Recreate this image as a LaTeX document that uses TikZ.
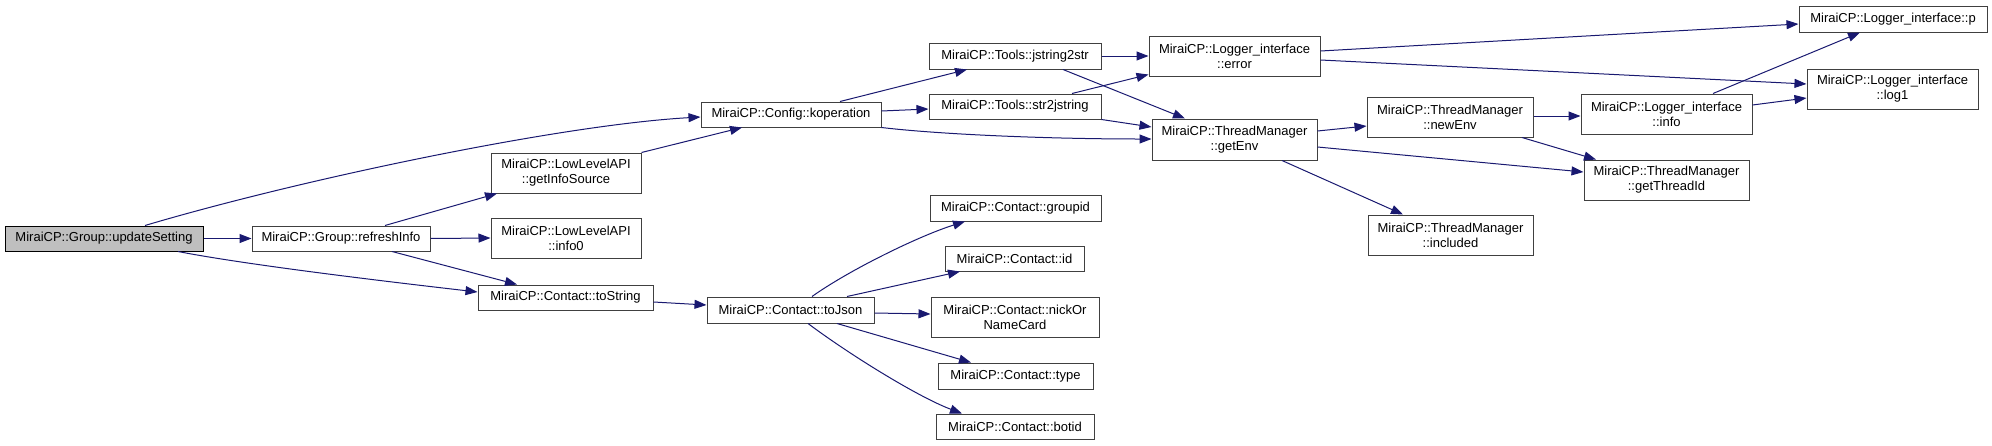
\documentclass[tikz,border=0pt]{standalone}
\usepackage{fontspec}
\setmainfont{Liberation Sans}
\usetikzlibrary{arrows.meta,calc}
\definecolor{nodeborder}{HTML}{404040}
\definecolor{edgeblue}{HTML}{191970}
\definecolor{rootfill}{HTML}{BFBFBF}
\tikzset{
  fn/.style={draw=nodeborder, fill=white, line width=1pt, inner sep=0pt, align=center,
             font=\fontsize{13}{15}\selectfont},
  rootfn/.style={fn, fill=rootfill, draw=black},
  call/.style={draw=edgeblue, line width=1pt, -{Triangle[length=12pt,width=9pt,fill=edgeblue]}},
}
\begin{document}
\begin{tikzpicture}[x=1pt,y=-1pt]
\useasboundingbox (0,0) rectangle (1992,445);
% nodes
\node[rootfn, minimum width=198pt, minimum height=25pt] (upd) at (104,238.5) {MiraiCP::Group::updateSetting};
\node[fn, minimum width=178pt, minimum height=25pt] (ref) at (341,238.5) {MiraiCP::Group::refreshInfo};
\node[fn, minimum width=150pt, minimum height=40pt] (gis) at (566,173) {MiraiCP::LowLevelAPI\\::getInfoSource};
\node[fn, minimum width=150pt, minimum height=40pt] (info0) at (566,238) {MiraiCP::LowLevelAPI\\::info0};
\node[fn, minimum width=175pt, minimum height=25pt] (tostr) at (565.5,297.5) {MiraiCP::Contact::toString};
\node[fn, minimum width=180pt, minimum height=25pt] (kop) at (791,114.5) {MiraiCP::Config::koperation};
\node[fn, minimum width=172pt, minimum height=26pt] (j2s) at (1015,56) {MiraiCP::Tools::jstring2str};
\node[fn, minimum width=172pt, minimum height=25pt] (s2j) at (1015,106.5) {MiraiCP::Tools::str2jstring};
\node[fn, minimum width=171pt, minimum height=40pt] (err) at (1234.5,56) {MiraiCP::Logger\_interface\\::error};
\node[fn, minimum width=165pt, minimum height=41pt] (genv) at (1234.5,139.5) {MiraiCP::ThreadManager\\::getEnv};
\node[fn, minimum width=166pt, minimum height=40pt] (newenv) at (1450,117) {MiraiCP::ThreadManager\\::newEnv};
\node[fn, minimum width=165pt, minimum height=40pt] (incl) at (1450.5,235) {MiraiCP::ThreadManager\\::included};
\node[fn, minimum width=171pt, minimum height=40pt] (info) at (1666.5,114) {MiraiCP::Logger\_interface\\::info};
\node[fn, minimum width=165pt, minimum height=40pt] (gtid) at (1666.5,180) {MiraiCP::ThreadManager\\::getThreadId};
\node[fn, minimum width=188pt, minimum height=26pt] (p) at (1893,19) {MiraiCP::Logger\_interface::p};
\node[fn, minimum width=171pt, minimum height=40pt] (log1) at (1892.5,89) {MiraiCP::Logger\_interface\\::log1};
\node[fn, minimum width=167pt, minimum height=26pt] (tojson) at (790.5,310) {MiraiCP::Contact::toJson};
\node[fn, minimum width=171pt, minimum height=26pt] (gid) at (1015.5,208) {MiraiCP::Contact::groupid};
\node[fn, minimum width=139pt, minimum height=25pt] (cid) at (1014.5,258.5) {MiraiCP::Contact::id};
\node[fn, minimum width=168pt, minimum height=40pt] (nick) at (1015,317) {MiraiCP::Contact::nickOr\\NameCard};
\node[fn, minimum width=155pt, minimum height=26pt] (ctype) at (1015.5,376) {MiraiCP::Contact::type};
\node[fn, minimum width=158pt, minimum height=25pt] (botid) at (1015,426.5) {MiraiCP::Contact::botid};
% connectors
\draw[call] ([xshift=41pt]upd.north) .. controls +(155,-46) and +(-141,8) .. ([yshift=-2.5pt]kop.west);
\draw[call] (upd.east) -- (ref.west);
\draw[call] ([xshift=74pt]upd.south) .. controls +(72,14) and +(-78,-9) .. ([yshift=5.5pt]tostr.west);
\draw[call] ([xshift=44pt]ref.north) -- ([xshift=-69pt]gis.south);
\draw[call] (ref.east) -- (info0.west);
\draw[call] ([xshift=51pt]ref.south) -- ([xshift=-48.5pt]tostr.north);
\draw[call] (gis.north east) -- ([xshift=-49pt]kop.south);
\draw[call] ([xshift=49pt]kop.north) -- ([xshift=-48pt]j2s.south);
\draw[call] ([yshift=3.5pt]kop.east) -- ([yshift=-2.5pt]s2j.west);
\draw[call] (kop.south east) .. controls +(59,7) and +(-102,0) .. ([yshift=0.5pt]genv.west);
\draw[call] (j2s.east) -- (err.west);
\draw[call] ([xshift=48pt]j2s.south) -- ([xshift=-49.5pt]genv.north);
\draw[call] ([xshift=57pt]s2j.north) -- ([yshift=2pt]err.south west);
\draw[call] (s2j.south east) -- ([yshift=12.5pt]genv.west);
\draw[call] ([yshift=5pt]err.east) -- ([yshift=-5pt]p.west);
\draw[call] ([yshift=-4pt]err.east) -- ([yshift=5pt]log1.west);
\draw[call] ([yshift=8.5pt]genv.east) -- ([yshift=-9pt]newenv.west);
\draw[call] ([yshift=-7.5pt]genv.east) -- ([yshift=8pt]gtid.west);
\draw[call] ([xshift=47.5pt]genv.south) -- ([xshift=-47.5pt]incl.north);
\draw[call] ([yshift=1pt]newenv.east) -- ([yshift=-2pt]info.west);
\draw[call] ([xshift=72pt]newenv.south) -- ([xshift=-70.5pt]gtid.north);
\draw[call] ([xshift=46.5pt]info.north) -- ([xshift=-33pt]p.south);
\draw[call] ([yshift=9pt]info.east) -- ([yshift=-9pt]log1.west);
\draw[call] ([yshift=-4.5pt]tostr.east) -- ([yshift=5pt]tojson.west);
\draw[call] ([xshift=21.5pt]tojson.north) .. controls +(38,-27) and +(-45,14) .. ([xshift=-50.5pt]gid.south);
\draw[call] ([xshift=56.5pt]tojson.north) -- ([xshift=-54.5pt]cid.south);
\draw[call] ([yshift=-3pt]tojson.east) -- ([yshift=3pt]nick.west);
\draw[call] ([xshift=46.5pt]tojson.south) -- ([xshift=-44.5pt]ctype.north);
\draw[call] ([xshift=17.5pt]tojson.south) .. controls +(40,30) and +(-45,-17) .. ([xshift=-53pt]botid.north);
\end{tikzpicture}
\end{document}
